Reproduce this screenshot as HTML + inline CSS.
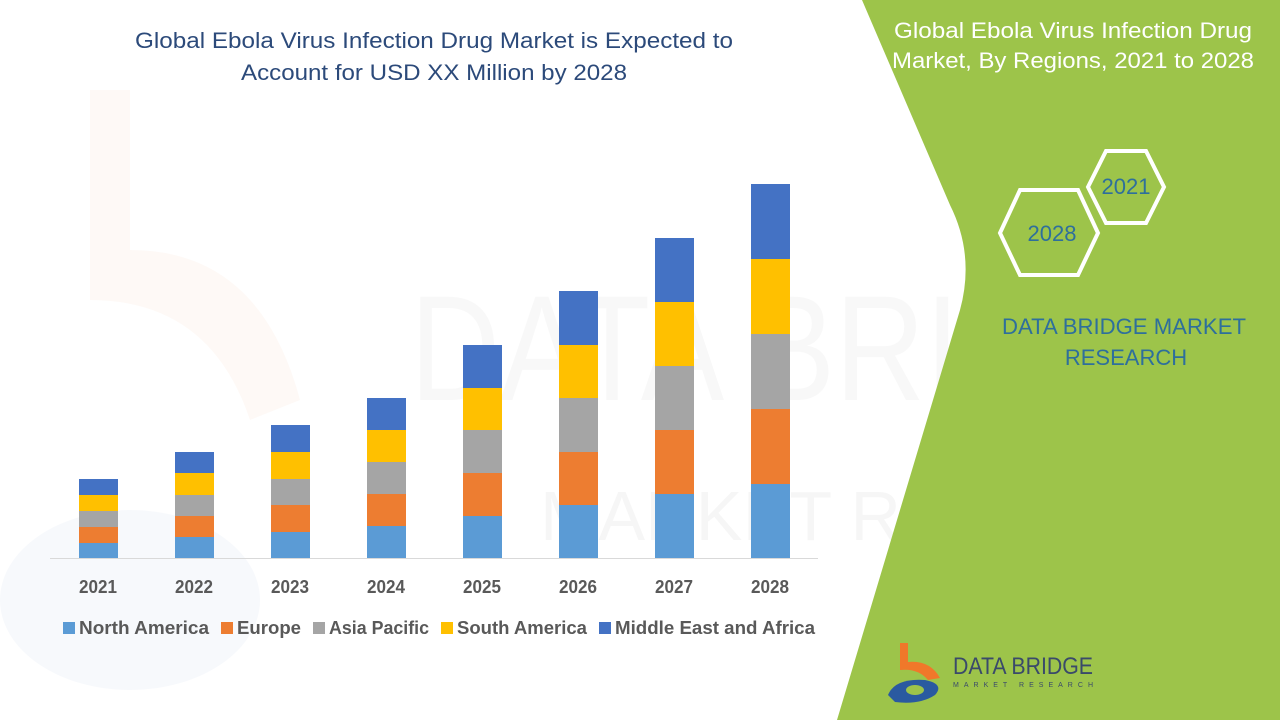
<!DOCTYPE html>
<html><head><meta charset="utf-8"><style>
html,body{margin:0;padding:0;background:#fff;}
svg{display:block;}
text{font-family:"Liberation Sans",sans-serif;}
</style></head><body>
<svg width="1280" height="720" viewBox="0 0 1280 720" xmlns="http://www.w3.org/2000/svg">
<rect width="1280" height="720" fill="#fff"/>
<g opacity="0.035" fill="#555" font-size="150" font-family="Liberation Sans">
<text x="410" y="400" textLength="820" lengthAdjust="spacingAndGlyphs">DATA BRIDGE</text>
</g>
<text x="540" y="540" font-size="70" fill="#000" opacity="0.03" textLength="700" lengthAdjust="spacingAndGlyphs">MARKET RESEARCH</text>
<path d="M90 90 L130 90 L130 250 Q260 250 300 400 L250 420 Q210 300 90 300Z" fill="#f08a4b" opacity="0.05"/>
<ellipse cx="130" cy="600" rx="130" ry="90" fill="#3a6fb0" opacity="0.04"/>
<path d="M862 0 L1280 0 L1280 720 L837 720 L960 310 Q975 255 950 205 Z" fill="#9dc44a"/>
<text x="1073" y="38" font-size="22" fill="#fff" text-anchor="middle" textLength="358" lengthAdjust="spacingAndGlyphs">Global Ebola Virus Infection Drug</text>
<text x="1073" y="68" font-size="22" fill="#fff" text-anchor="middle" textLength="362" lengthAdjust="spacingAndGlyphs">Market, By Regions, 2021 to 2028</text>
<polygon points="1088,187 1106,151 1146,151 1164,187 1146,223 1106,223" fill="none" stroke="#fff" stroke-width="4"/>
<polygon points="1000,233 1020,190 1078,190 1098,233 1078,275 1020,275" fill="none" stroke="#fff" stroke-width="4"/>
<text x="1126" y="194" font-size="22" fill="#2e6f9c" text-anchor="middle">2021</text>
<text x="1052" y="241" font-size="22" fill="#2e6f9c" text-anchor="middle">2028</text>
<text x="1124" y="334" font-size="22" fill="#2e6f9c" text-anchor="middle" textLength="244" lengthAdjust="spacingAndGlyphs">DATA BRIDGE MARKET</text>
<text x="1126" y="365" font-size="22" fill="#2e6f9c" text-anchor="middle">RESEARCH</text>
<path d="M900 643 L908 643 L908 662 Q930 660 940 678 L928 680 Q918 668 900 670Z" fill="#f0782a"/>
<path d="M888 695 Q895 678 925 680 Q945 684 935 695 Q920 705 895 702 Z" fill="#2a5aa0"/>
<ellipse cx="915" cy="690" rx="9" ry="5" fill="#9dc44a"/>
<text x="953" y="674" font-size="24" fill="#3a4a6a" textLength="140" lengthAdjust="spacingAndGlyphs">DATA BRIDGE</text>
<text x="953" y="687" font-size="7" fill="#3a4a6a" textLength="140" lengthAdjust="spacing">MARKET RESEARCH</text>
<text x="434" y="48" font-size="22" fill="#2c4a7a" text-anchor="middle" textLength="598" lengthAdjust="spacingAndGlyphs">Global Ebola Virus Infection Drug Market is Expected to</text>
<text x="434" y="80" font-size="22" fill="#2c4a7a" text-anchor="middle" textLength="386" lengthAdjust="spacingAndGlyphs">Account for USD XX Million by 2028</text>
<line x1="50" y1="558.5" x2="818" y2="558.5" stroke="#d9d9d9" stroke-width="1"/>
<g>
<rect x="79" y="543" width="39" height="15" fill="#5b9bd5"/><rect x="79" y="527" width="39" height="16" fill="#ed7d31"/><rect x="79" y="511" width="39" height="16" fill="#a5a5a5"/><rect x="79" y="495" width="39" height="16" fill="#ffc000"/><rect x="79" y="479" width="39" height="16" fill="#4472c4"/>
<rect x="175" y="537" width="39" height="21" fill="#5b9bd5"/><rect x="175" y="516" width="39" height="21" fill="#ed7d31"/><rect x="175" y="495" width="39" height="21" fill="#a5a5a5"/><rect x="175" y="473" width="39" height="22" fill="#ffc000"/><rect x="175" y="452" width="39" height="21" fill="#4472c4"/>
<rect x="271" y="532" width="39" height="26" fill="#5b9bd5"/><rect x="271" y="505" width="39" height="27" fill="#ed7d31"/><rect x="271" y="479" width="39" height="26" fill="#a5a5a5"/><rect x="271" y="452" width="39" height="27" fill="#ffc000"/><rect x="271" y="425" width="39" height="27" fill="#4472c4"/>
<rect x="367" y="526" width="39" height="32" fill="#5b9bd5"/><rect x="367" y="494" width="39" height="32" fill="#ed7d31"/><rect x="367" y="462" width="39" height="32" fill="#a5a5a5"/><rect x="367" y="430" width="39" height="32" fill="#ffc000"/><rect x="367" y="398" width="39" height="32" fill="#4472c4"/>
<rect x="463" y="516" width="39" height="42" fill="#5b9bd5"/><rect x="463" y="473" width="39" height="43" fill="#ed7d31"/><rect x="463" y="430" width="39" height="43" fill="#a5a5a5"/><rect x="463" y="388" width="39" height="42" fill="#ffc000"/><rect x="463" y="345" width="39" height="43" fill="#4472c4"/>
<rect x="559" y="505" width="39" height="53" fill="#5b9bd5"/><rect x="559" y="452" width="39" height="53" fill="#ed7d31"/><rect x="559" y="398" width="39" height="54" fill="#a5a5a5"/><rect x="559" y="345" width="39" height="53" fill="#ffc000"/><rect x="559" y="291" width="39" height="54" fill="#4472c4"/>
<rect x="655" y="494" width="39" height="64" fill="#5b9bd5"/><rect x="655" y="430" width="39" height="64" fill="#ed7d31"/><rect x="655" y="366" width="39" height="64" fill="#a5a5a5"/><rect x="655" y="302" width="39" height="64" fill="#ffc000"/><rect x="655" y="238" width="39" height="64" fill="#4472c4"/>
<rect x="751" y="484" width="39" height="74" fill="#5b9bd5"/><rect x="751" y="409" width="39" height="75" fill="#ed7d31"/><rect x="751" y="334" width="39" height="75" fill="#a5a5a5"/><rect x="751" y="259" width="39" height="75" fill="#ffc000"/><rect x="751" y="184" width="39" height="75" fill="#4472c4"/>
</g>
<g font-size="18" font-weight="bold" fill="#595959" text-anchor="middle">
<text x="98" y="593" textLength="38" lengthAdjust="spacingAndGlyphs">2021</text>
<text x="194" y="593" textLength="38" lengthAdjust="spacingAndGlyphs">2022</text>
<text x="290" y="593" textLength="38" lengthAdjust="spacingAndGlyphs">2023</text>
<text x="386" y="593" textLength="38" lengthAdjust="spacingAndGlyphs">2024</text>
<text x="482" y="593" textLength="38" lengthAdjust="spacingAndGlyphs">2025</text>
<text x="578" y="593" textLength="38" lengthAdjust="spacingAndGlyphs">2026</text>
<text x="674" y="593" textLength="38" lengthAdjust="spacingAndGlyphs">2027</text>
<text x="770" y="593" textLength="38" lengthAdjust="spacingAndGlyphs">2028</text>
</g>
<g font-size="18" font-weight="bold" fill="#595959">
<rect x="63" y="622" width="12" height="12" fill="#5b9bd5"/><text x="79" y="634" textLength="130" lengthAdjust="spacingAndGlyphs">North America</text>
<rect x="221" y="622" width="12" height="12" fill="#ed7d31"/><text x="237" y="634" textLength="64" lengthAdjust="spacingAndGlyphs">Europe</text>
<rect x="313" y="622" width="12" height="12" fill="#a5a5a5"/><text x="329" y="634" textLength="100" lengthAdjust="spacingAndGlyphs">Asia Pacific</text>
<rect x="441" y="622" width="12" height="12" fill="#ffc000"/><text x="457" y="634" textLength="130" lengthAdjust="spacingAndGlyphs">South America</text>
<rect x="599" y="622" width="12" height="12" fill="#4472c4"/><text x="615" y="634" textLength="200" lengthAdjust="spacingAndGlyphs">Middle East and Africa</text>
</g>
</svg>
</body></html>
